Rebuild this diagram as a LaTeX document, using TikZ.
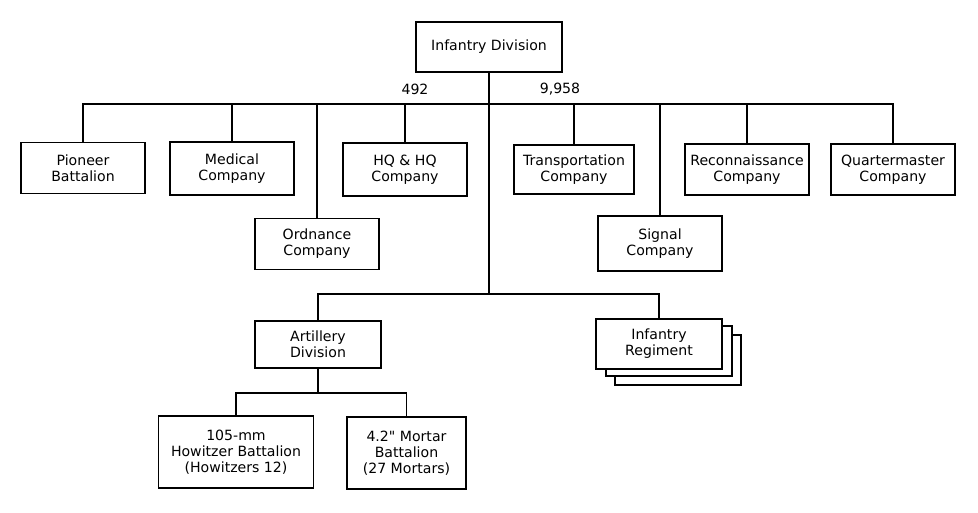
\documentclass[tikz,border=0pt]{standalone}
\usepackage{fontspec}
\setmainfont{DejaVu Sans}[Ligatures=TeXOff]
\tikzset{
  unit/.style={draw,line width=1.8pt,fill=white,align=center,minimum width=124pt,minimum height=51pt,inner sep=2pt,font=\fontsize{14.1}{15.8}\selectfont},
  link/.style={line width=1.8pt}
}
\begin{document}
\begin{tikzpicture}[x=1pt,y=-1pt]
    \useasboundingbox (0,0) rectangle (978,512);
    \node[unit,minimum width=146pt,minimum height=50pt] (div) at (489,47) {Infantry Division};
    \node[unit] (pio) at (83,168) {Pioneer\\Battalion};
    \node[unit,minimum height=53pt] (med) at (232,168.5) {Medical\\Company};
    \node[unit] (ord) at (317,244) {Ordnance\\Company};
    \node[unit,minimum height=53pt] (hq) at (405,169.5) {HQ \& HQ\\Company};
    \node[unit,minimum width=120pt,minimum height=49pt] (trn) at (574,169.5) {Transportation\\Company};
    \node[unit,minimum height=55pt] (sig) at (660,243.5) {Signal\\Company};
    \node[unit] (rec) at (747,169.5) {Reconnaissance\\Company};
    \node[unit] (qm) at (893,169.5) {Quartermaster\\Company};
    \node[font=\fontsize{14.1}{16}\selectfont] (n1) at (415,89) {492};
    \node[font=\fontsize{14.1}{16}\selectfont] (n2) at (560,89) {9,958};
    \coordinate (bus) at (489,104);
    \coordinate (lbus) at (489,294);
    \draw[link] (pio.north) |- (bus) -| (qm.north);
    \foreach \u in {med,ord,hq,trn,sig,rec}
    \draw[link] (\u.north) -- (\u.north |- bus);
    \draw[link] (div.south) -- (lbus);
    \node[unit,minimum width=126pt,minimum height=47pt] (art) at (318,344.5) {Artillery\\Division};
    \node[unit,minimum width=126pt,minimum height=50pt] (reg3) at (678,360) {};
    \node[unit,minimum width=126pt,minimum height=50pt] (reg2) at (669,351) {};
    \node[unit,minimum width=126pt,minimum height=50pt] (reg) at (659,344) {Infantry\\Regiment};
    \draw[link] (art.north) |- (lbus) -| (reg.north);
    \coordinate (abus) at (318,393);
    \node[unit,minimum width=155pt,minimum height=72pt] (how) at (236,452) {105-mm\\Howitzer Battalion\\(Howitzers 12)};
    \node[unit,minimum width=119pt,minimum height=72pt] (mor) at (406.5,453) {4.2" Mortar\\Battalion\\(27 Mortars)};
    \draw[link] (art.south) -- (abus);
    \draw[link] (how.north) |- (abus) -| (mor.north);
\end{tikzpicture}
\end{document}
